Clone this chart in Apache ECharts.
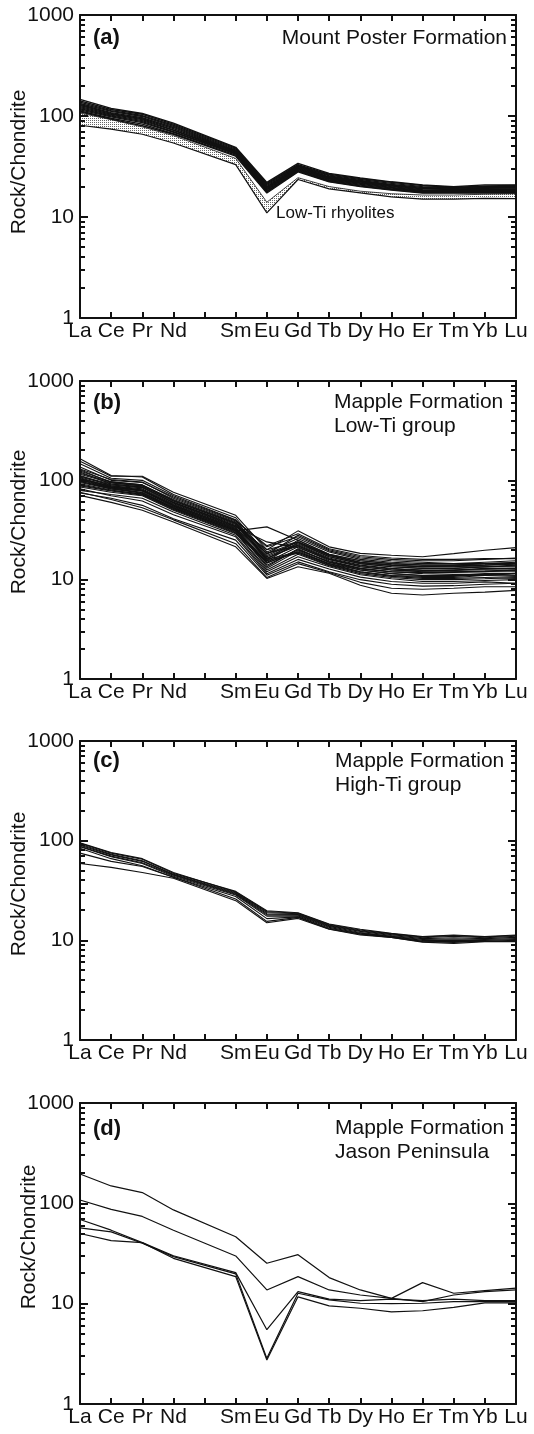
<!DOCTYPE html>
<html><head><meta charset="utf-8">
<script src="https://cdn.jsdelivr.net/npm/echarts@6/dist/echarts.min.js"></script>
<style>html,body{margin:0;padding:0;background:#fff}#c{width:534px;height:1434px}</style>
</head><body><div id="c"></div>
<script>
// ---------- DATA ----------
const categories = ['La','Ce','Pr','Nd','Pm','Sm','Eu','Gd','Tb','Dy','Ho','Er','Tm','Yb','Lu'];
const minorTickValues = [2,3,4,5,6,7,8,9,20,30,40,50,60,70,80,90,200,300,400,500,600,700,800,900];

// (a) Mount Poster Formation - main group (dense black band)
const panelA_main = [
  [146,119,106,85,null,49,22,34,27,24.3,22.3,20.8,19.9,20.8,20.8],
  [141,116,104,83,null,48,21.5,33,26.5,24,22,20.5,19.6,20.3,20.5],
  [137,113,101,81,null,47,21,32.5,26,23.5,21.5,20,19.4,20,20],
  [133,111,99,79,null,46,20.5,32,25.5,23,21,19.6,19.2,19.6,19.6],
  [130,108,96,77,null,45,20,31.5,25,22.6,20.6,19.2,19,19.2,19.3],
  [127,106,94,75,null,44.5,19.6,31,24.6,22.2,20.3,19,18.7,18.9,19],
  [124,104,92,73,null,44,19.2,30.5,24.2,21.8,20,18.6,18.5,18.6,18.7],
  [121,102,90,72,null,43,18.8,30,23.8,21.5,19.6,18.3,18.2,18.3,18.4],
  [118,100,88,70,null,42.5,18.4,29.5,23.4,21.1,19.3,18,18,18,18],
  [115,98,86,69,null,42,18,29,23,20.7,19,17.8,17.8,17.8,17.8],
  [112,95,83,67,null,41,17.7,28.5,22.6,20.3,18.7,17.5,17.5,17.5,17.5],
  [110,93,80,66,null,40,17.3,28,22.3,20,18.5,17.3,17.3,17.3,17.3]
];
// (a) Low-Ti rhyolites envelope (stippled field)
const panelA_lowTiUpper = [107,92,78,64,null,38,14,24.5,20,18,17,16.5,16.5,16.8,17];
const panelA_lowTiLower = [81,74,66,54,null,33,11,23.5,19,17.3,15.8,15,15,15.3,15.2];

// (b) Mapple Formation, Low-Ti group
const panelB = [
  [165,112,108,72,null,42,18,28,20,17,16,15.5,15.5,16,16.5],
  [156,110,110,76,null,44.5,20,31,21.4,18.4,17.6,17,18.3,19.8,21],
  [147,105,100,70,null,40,16,25,18,15.5,14.5,14,14,14.5,14.6],
  [136,100,95,68,null,39.6,21.4,27,19.5,16.5,15.5,15,14.5,14.5,14.6],
  [130,102,96,66,null,39,22,29,20.5,17.5,16.5,16,16,16.3,16.3],
  [128,95,88,62,null,37,18.3,24,17.5,15,14,13.5,13.5,13.5,13.5],
  [124,97,90,63,null,37.5,15.5,23.5,17,14.5,13.5,13,13,13.4,13.8],
  [121,92,85,60,null,36,16.3,22.5,16.5,14,13,12.5,12.5,13,13],
  [118,96,90,64,null,38,19,26,19,16,15,14.5,14.5,15,15.5],
  [115,94,88,62,null,36.5,17.5,24,17.8,15,14,13.5,13.8,14,14.3],
  [112,88,82,58,null,34,24,21,16,13.5,12.5,12,12,12,12],
  [110,92,86,60,null,35,17,23,17,14.5,13.5,13,13,13.5,14],
  [108,90,84,59,null,34.5,20,24,17.5,14.8,14,13.5,13.5,14,14.6],
  [106,86,78,55,null,32,14.6,20,15,12.5,11.5,11,11,11.5,11.5],
  [104,86,80,56,null,33.5,16.5,22,16,13.5,12.5,12.2,12.5,12.8,13],
  [103,88,80,57,null,33,15,21.5,15.5,13,12,11.8,11.8,12,12.5],
  [102,85,79,56,null,32.5,18.5,22,16.2,13.8,12.8,12.4,12.4,12.6,12.4],
  [100,84,75,53,null,31,34,25,18,15.5,14.5,14,14,14.5,15],
  [98,82,74,53,null,31.5,14,20,15.2,13,12,11.8,12,12.2,12.6],
  [97,84,78,55,null,32,13.5,20.5,15,12.8,12,11.5,11.3,11.3,11],
  [95,82,76,54,null,31,16,19,14.5,12.5,11.5,11,11,11,10.8],
  [92.5,80,72,52,null,30,13,19.5,14.5,12,11,10.5,10.5,11,11.5],
  [90,79,73,52,null,30.5,14.8,19,14.2,12,11,10.8,10.8,11.2,11.6],
  [88,78,71,51,null,29.5,12.5,18,13.8,11.5,10.5,10,10,10.2,10.5],
  [85.6,76,70,50,null,29,15.5,18.5,14,11.8,10.8,10.3,10.3,10.5,10.3],
  [82,70,62,45,null,27,11.5,16,12.8,10.6,9.6,9.2,9.2,9.5,9.2],
  [79,72,66,48,null,28,12,17,13.5,11.2,10.2,9.6,9.6,9.8,10],
  [76,64,53,40,null,23,10.5,14.5,11.8,9.4,8.2,8,8.2,8.5,8.5],
  [74.5,66,56,41,null,25,11.1,15.1,12,10,9,8.6,8.7,9,9.2],
  [70.6,60,50,38,null,21.4,10.3,13.5,11.6,8.8,7.3,7,7.3,7.5,7.8]
];

// (c) Mapple Formation, High-Ti group
const panelC = [
  [95,76,66,48,null,30.5,19.5,18.7,14.4,12.7,11.6,10.8,11.2,10.8,11.2],
  [94,75,65,47,null,31,19.8,18.9,14.6,12.9,11.75,10.9,11.3,10.9,11.3],
  [92,73,63,46,null,30,19,18.5,14.2,12.5,11.4,10.6,11,10.6,11],
  [90,72,62,45.5,null,29.5,18.5,18.2,14,12.3,11.2,10.4,10.6,10.4,10.7],
  [88,70,60,45,null,29,18,18,13.8,12,11,10.2,10.3,10.2,10.4],
  [87,69,59,44,null,28.5,17.5,17.6,13.5,11.8,10.9,10,10,10,10.2],
  [84,66,56,43,null,27.5,16.5,17.2,13.2,11.6,10.8,9.8,9.7,9.8,10],
  [75,62,55,43,null,26,15.5,17,13,11.5,10.7,9.7,9.5,9.8,9.8],
  [59,54,48,42,null,25,15,16.6,12.9,11.3,10.7,9.6,9.3,9.7,9.7]
];

// (d) Mapple Formation, Jason Peninsula
const panelD = [
  [196,149,128,86,null,46.5,25.3,30.8,18.2,13.7,11.3,16.2,12.7,13.5,14.3],
  [108,87,74,54,null,29.9,13.7,18.6,13.7,12.2,11.3,10.5,12.2,13.2,13.7],
  [69,54,40.6,30,null,20.4,5.5,13.2,11.1,10.7,11.1,10.7,11.1,10.7,10.7],
  [57,52,40,29.4,null,19.8,2.85,12.7,10.9,10.1,10,10.1,10.5,10.5,10.5],
  [50,42.5,40.6,28.3,null,18.6,2.75,11.7,9.5,9.0,8.3,8.5,9.2,10.2,10.2]
];

// ---------- CHART ----------
const FONT = '"Liberation Sans", Arial, Helvetica, sans-serif';
const INK = '#111';
const grids = [
  {left: 80, top: 15, width: 436, height: 303},
  {left: 80, top: 381, width: 436, height: 298},
  {left: 80, top: 741, width: 436, height: 299},
  {left: 80, top: 1103, width: 436, height: 301}
];

// stipple pattern
const pc = document.createElement('canvas');
pc.width = 2; pc.height = 2;
const pctx = pc.getContext('2d');
pctx.fillStyle = '#fff'; pctx.fillRect(0, 0, 2, 2);
pctx.fillStyle = '#666'; pctx.fillRect(0, 0, 1, 1);
const stipple = {image: pc, repeat: 'repeat'};

const xAxes = [], yAxes = [], series = [];
grids.forEach((g, i) => {
  const common = {
    type: 'category', gridIndex: i, data: categories, boundaryGap: false, z: 10,
    axisLine: {show: true, onZero: false, lineStyle: {color: INK, width: 2}},
    axisTick: {show: true, inside: true, length: 6, interval: 0, lineStyle: {color: INK, width: 2}},
    splitLine: {show: false}
  };
  xAxes.push(Object.assign({}, common, {
    position: 'bottom',
    axisLabel: {show: true, interval: 0, margin: 3, color: INK, fontSize: 21, fontFamily: FONT,
      formatter: v => v === 'Pm' ? '' : v}
  }));
  xAxes.push(Object.assign({}, common, {position: 'top', axisLabel: {show: false}}));
  const ycommon = {
    type: 'log', logBase: 10, gridIndex: i, min: 1, max: 1000, interval: 1, z: 10,
    axisLine: {show: true, onZero: false, lineStyle: {color: INK, width: 2}},
    axisTick: {show: true, inside: true, length: 8, lineStyle: {color: INK, width: 2}},
    splitLine: {show: false}, minorTick: {show: false}, minorSplitLine: {show: false}
  };
  yAxes.push(Object.assign({}, ycommon, {
    position: 'left',
    axisLabel: {show: true, margin: 6, color: INK, fontSize: 21, fontFamily: FONT,
      formatter: v => String(v)}
  }));
  yAxes.push(Object.assign({}, ycommon, {position: 'right', axisLabel: {show: false}}));

  // minor ticks of the log axes (2..9 per decade), placed through the axis scale
  series.push({
    type: 'custom', xAxisIndex: 2 * i, yAxisIndex: 2 * i, silent: true, z: 12,
    data: minorTickValues.map(v => [0, v]),
    renderItem: (params, api) => {
      const cs = params.coordSys;
      const y = Math.round(api.coord([0, api.value(1)])[1]);
      return {type: 'group', children: [
        {type: 'line', shape: {x1: cs.x, y1: y, x2: cs.x + 5, y2: y}, style: {stroke: INK, lineWidth: 2}},
        {type: 'line', shape: {x1: cs.x + cs.width, y1: y, x2: cs.x + cs.width - 5, y2: y}, style: {stroke: INK, lineWidth: 2}}
      ]};
    }
  });
});

function lineSeries(values, gi, width) {
  return {
    type: 'line', xAxisIndex: 2 * gi, yAxisIndex: 2 * gi, data: values, connectNulls: true,
    symbol: 'none', silent: true, animation: false, z: 3,
    lineStyle: {color: INK, width: width}
  };
}

// panel (a) stippled low-Ti field
series.push({
  type: 'custom', xAxisIndex: 0, yAxisIndex: 0, silent: true, z: 2, data: [[0, 10]],
  renderItem: (params, api) => {
    const pts = [];
    panelA_lowTiUpper.forEach((v, k) => { if (v != null) pts.push(api.coord([k, v])); });
    for (let k = panelA_lowTiLower.length - 1; k >= 0; k--) {
      if (panelA_lowTiLower[k] != null) pts.push(api.coord([k, panelA_lowTiLower[k]]));
    }
    return {type: 'polygon', shape: {points: pts}, style: {fill: stipple, stroke: null}};
  }
});
series.push(lineSeries(panelA_lowTiUpper, 0, 0.8));
series.push(lineSeries(panelA_lowTiLower, 0, 1.2));
panelA_main.forEach(d => series.push(lineSeries(d, 0, 1.4)));
panelB.forEach(d => series.push(lineSeries(d, 1, 1.1)));
panelC.forEach(d => series.push(lineSeries(d, 2, 1.1)));
panelD.forEach(d => series.push(lineSeries(d, 3, 1.2)));

function txt(text, x, y, size, align, bold, rot) {
  const el = {
    type: 'text', x: x, y: y, z: 20, silent: true,
    style: {text: text, fill: INK, font: (bold ? 'bold ' : '') + size + 'px ' + FONT,
      textAlign: align, align: align, textVerticalAlign: 'middle', verticalAlign: 'middle'}
  };
  if (rot) el.rotation = Math.PI / 2;
  return el;
}
const graphics = [
  txt('(a)', 93, 38, 22, 'left', true),
  txt('Mount Poster Formation', 507, 38, 21, 'right'),
  txt('Low-Ti rhyolites', 276, 213, 17, 'left'),
  txt('(b)', 93, 403, 22, 'left', true),
  txt('Mapple Formation', 334, 402, 21, 'left'),
  txt('Low-Ti group', 334, 426, 21, 'left'),
  txt('(c)', 93, 761, 22, 'left', true),
  txt('Mapple Formation', 335, 761, 21, 'left'),
  txt('High-Ti group', 335, 785, 21, 'left'),
  txt('(d)', 93, 1129, 22, 'left', true),
  txt('Mapple Formation', 335, 1128, 21, 'left'),
  txt('Jason Peninsula', 335, 1152, 21, 'left'),
  txt('Rock/Chondrite', 19, 162, 21, 'center', false, true),
  txt('Rock/Chondrite', 19, 522, 21, 'center', false, true),
  txt('Rock/Chondrite', 19, 884, 21, 'center', false, true),
  txt('Rock/Chondrite', 29, 1237, 21, 'center', false, true)
];

const chart = echarts.init(document.getElementById('c'), null, {renderer: 'canvas'});
chart.setOption({
  animation: false,
  backgroundColor: '#fff',
  grid: grids.map(g => Object.assign({containLabel: false}, g)),
  xAxis: xAxes,
  yAxis: yAxes,
  series: series,
  graphic: graphics
});
</script></body></html>
